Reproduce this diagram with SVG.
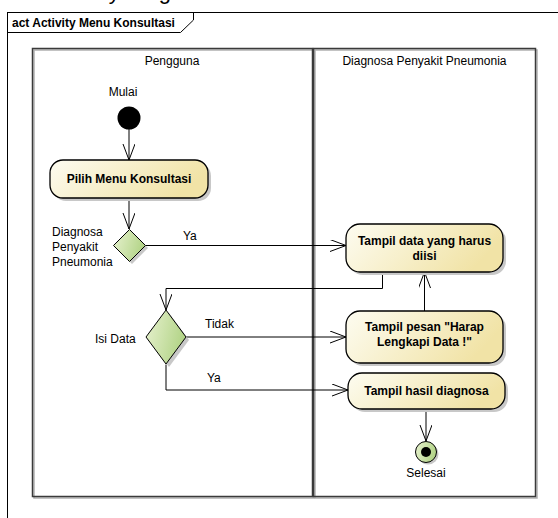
<svg xmlns="http://www.w3.org/2000/svg" width="558" height="518" viewBox="0 0 558 518">
<defs>
<linearGradient id="gAct" x1="0" y1="0" x2="1" y2="0.3">
<stop offset="0" stop-color="#fdfcf1"/>
<stop offset="1" stop-color="#f1e3a6"/>
</linearGradient>
<linearGradient id="gDec" x1="0" y1="0" x2="1" y2="0.3">
<stop offset="0" stop-color="#e8f2d0"/>
<stop offset="1" stop-color="#b3d488"/>
</linearGradient>
<marker id="arr" markerUnits="userSpaceOnUse" markerWidth="18" markerHeight="14" refX="16" refY="6" orient="auto">
<path d="M0,0 L16,6 L0,12" fill="none" stroke="#000" stroke-width="1"/>
</marker>
</defs>
<style>
text{font-family:"Liberation Sans",Arial,sans-serif;fill:#000}
.lbl{font-size:12px}
.b{font-size:12px;font-weight:bold}
.act{fill:url(#gAct);stroke:#000;stroke-width:1.3}
.shd{fill:#c8c8c8;stroke:none}
.dec{fill:url(#gDec);stroke:#000;stroke-width:1}
.lane{fill:none;stroke:#3a3a3a;stroke-width:1.5}
.laneshd{fill:none;stroke:#b0b0b0;stroke-width:1.5}
.con{fill:none;stroke:#000;stroke-width:1}
</style>
<rect width="558" height="518" fill="#fff"/>
<text x="50" y="-1.5" style="font-size:22px">Activity Diagram</text>
<g id="frame">
<rect x="7.5" y="12.5" width="600" height="600" fill="none" stroke="#000" stroke-width="1"/>
<path d="M7.5,32.5 H180.5 L193.5,20 V12.5" fill="none" stroke="#000" stroke-width="1"/>
<text x="12" y="27" style="font-size:12px;font-weight:bold">act Activity Menu Konsultasi</text>
</g>
<g id="lane-pengguna">
<rect x="34" y="50" width="280" height="448" class="laneshd"/>
<rect x="32.5" y="48.5" width="280" height="448" class="lane"/>
<text x="172" y="65" text-anchor="middle" class="lbl">Pengguna</text>
</g>
<g id="lane-diagnosa">
<rect x="315" y="50" width="222" height="448" class="laneshd"/>
<rect x="313.5" y="48.5" width="222" height="448" class="lane"/>
<text x="424.5" y="65" text-anchor="middle" class="lbl">Diagnosa Penyakit Pneumonia</text>
</g>
<g id="connectors">
<path class="con" d="M129,129 V160" marker-end="url(#arr)"/>
<path class="con" d="M129,198 V229" marker-end="url(#arr)"/>
<path class="con" d="M145.5,245.5 H346" marker-end="url(#arr)"/>
<text x="183" y="240" class="lbl">Ya</text>
<path class="con" d="M382.5,272 V288.5 H166 V310" marker-end="url(#arr)"/>
<path class="con" d="M186,337 H346" marker-end="url(#arr)"/>
<text x="205" y="328" class="lbl">Tidak</text>
<path class="con" d="M166,364.5 V390 H348" marker-end="url(#arr)"/>
<text x="207" y="382" class="lbl">Ya</text>
<path class="con" d="M424.5,311 V272" marker-end="url(#arr)"/>
<path class="con" d="M426,409 V441" marker-end="url(#arr)"/>
</g>
<g id="start">
<text x="123" y="96" text-anchor="middle" class="lbl">Mulai</text>
<circle cx="129" cy="118" r="11.5" fill="#000"/>
</g>
<g id="act-pilih">
<rect x="53" y="163" width="158" height="38" rx="13" class="shd"/>
<rect x="50" y="160" width="158" height="38" rx="13" class="act"/>
<text x="129" y="183" text-anchor="middle" class="b">Pilih Menu Konsultasi</text>
</g>
<g id="dec-diagnosa">
<path d="M132,232 L148,248 L132,264 L116,248 Z" class="shd"/>
<path d="M129.5,229.5 L145.5,245.5 L129.5,261.5 L113.5,245.5 Z" class="dec"/>
<text x="52" y="236" class="lbl">Diagnosa</text>
<text x="52" y="251" class="lbl">Penyakit</text>
<text x="52" y="266" class="lbl">Pneumonia</text>
</g>
<g id="act-tampil-data">
<rect x="349" y="227" width="157" height="48" rx="14" class="shd"/>
<rect x="346" y="224" width="157" height="48" rx="14" class="act"/>
<text x="424.5" y="245" text-anchor="middle" class="b">Tampil data yang harus</text>
<text x="424.5" y="260" text-anchor="middle" class="b">diisi</text>
</g>
<g id="dec-isi">
<path d="M169,313 L189,340 L169,367 L149,340 Z" class="shd"/>
<path d="M166,310 L186,337 L166,364 L146,337 Z" class="dec"/>
<text x="95" y="343" class="lbl">Isi Data</text>
</g>
<g id="act-tampil-pesan">
<rect x="349" y="314" width="157" height="52" rx="14" class="shd"/>
<rect x="346" y="311" width="157" height="52" rx="14" class="act"/>
<text x="424.5" y="331" text-anchor="middle" class="b">Tampil pesan "Harap</text>
<text x="424.5" y="346" text-anchor="middle" class="b">Lengkapi Data !"</text>
</g>
<g id="act-tampil-hasil">
<rect x="351" y="376" width="157" height="36" rx="14" class="shd"/>
<rect x="348" y="373" width="157" height="36" rx="14" class="act"/>
<text x="426.5" y="395" text-anchor="middle" class="b">Tampil hasil diagnosa</text>
</g>
<g id="final">
<circle cx="428" cy="454" r="10.5" class="shd"/>
<circle cx="426" cy="452" r="10.5" class="dec"/>
<circle cx="426" cy="452" r="5" fill="#000"/>
<text x="426" y="477" text-anchor="middle" class="lbl">Selesai</text>
</g>
</svg>
